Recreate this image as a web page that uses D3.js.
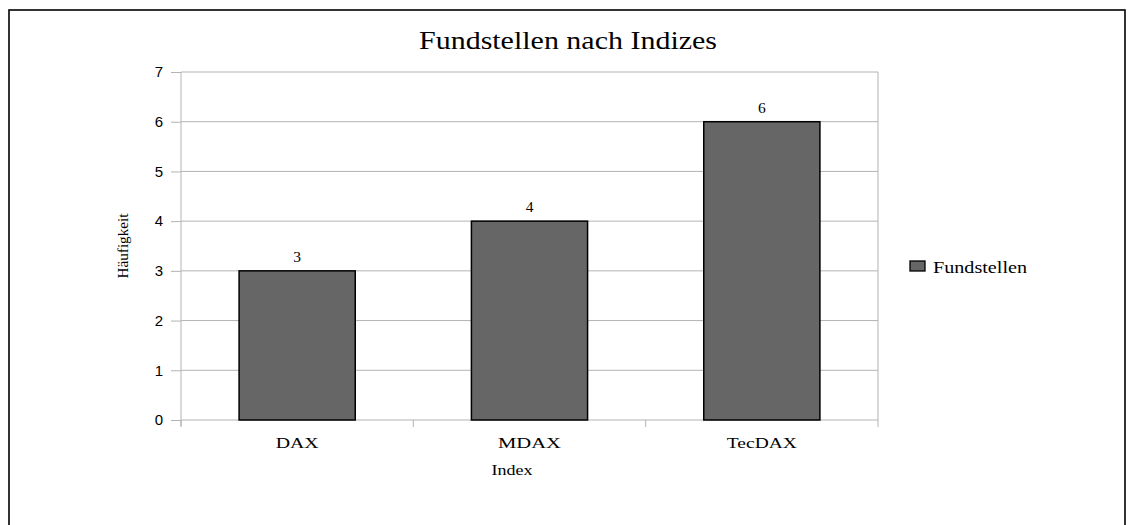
<!DOCTYPE html>
<html>
<head>
<meta charset="utf-8">
<script src="https://cdn.jsdelivr.net/npm/d3@7"></script>
<style>
  body { margin: 0; background: #fff; }
  .serif { font-family: "Liberation Serif", "DejaVu Serif", serif; }
  .sans { font-family: "Liberation Sans", Arial, sans-serif; }
</style>
</head>
<body>
<script>
const width = 1134
const height = 525

// Data
const categories = ['DAX', 'MDAX', 'TecDAX']
const values = [3, 4, 6]
const yTicks = [0, 1, 2, 3, 4, 5, 6, 7]
const seriesName = 'Fundstellen'

const plot = {left: 181, right: 878, top: 72, bottom: 420}

// the original renders its serif text a bit stretched, so fit widths
const catWidths = {DAX: 43, MDAX: 63, TecDAX: 70}

const svg = d3.select('body').append('svg')
  .attr('width', width)
  .attr('height', height)

// outer frame
svg.append('rect')
  .attr('x', 9).attr('y', 10)
  .attr('width', 1116).attr('height', 540)
  .attr('fill', 'none').attr('stroke', '#000').attr('stroke-width', 1.6)

const x = d3.scaleBand()
  .domain(categories)
  .range([plot.left, plot.right])
  .paddingInner(0.5).paddingOuter(0.25)

const xOuter = d3.scaleBand()
  .domain(categories)
  .range([plot.left, plot.right])

const y = d3.scaleLinear()
  .domain([0, 7])
  .range([plot.bottom, plot.top])

// gridlines
svg.append('g').selectAll('line')
  .data(yTicks.filter(d => d > 0))
  .enter().append('line')
  .attr('x1', plot.left).attr('x2', plot.right)
  .attr('y1', d => y(d)).attr('y2', d => y(d))
  .attr('stroke', '#b3b3b3').attr('stroke-width', 1)

// right edge of plot
svg.append('line')
  .attr('x1', plot.right).attr('x2', plot.right)
  .attr('y1', plot.top).attr('y2', plot.bottom)
  .attr('stroke', '#b3b3b3')

// y axis
const yAxis = svg.append('g')
  .attr('transform', `translate(${plot.left},0)`)
  .call(d3.axisLeft(y).tickValues(yTicks).tickSize(10).tickPadding(8).tickFormat(d3.format('d')))
yAxis.select('.domain').attr('stroke', '#b3b3b3').attr('d', `M0,${plot.top}V${plot.bottom + 6}`)
yAxis.selectAll('.tick line').attr('stroke', '#b3b3b3')
yAxis.selectAll('.tick text')
  .attr('class', 'sans')
  .attr('font-size', 15).attr('fill', '#000')

// x axis
const xAxis = svg.append('g')
  .attr('transform', `translate(0,${plot.bottom})`)
  .call(d3.axisBottom(xOuter).tickSize(0).tickPadding(17))
xAxis.select('.domain').attr('stroke', '#b3b3b3').attr('d', `M${plot.left},0H${plot.right}`)
xAxis.selectAll('.tick text')
  .attr('class', 'serif')
  .attr('font-size', 15.5).attr('fill', '#000')
  .attr('textLength', d => catWidths[d])
  .attr('lengthAdjust', 'spacingAndGlyphs')

// x tick marks at category boundaries
svg.append('g').selectAll('line')
  .data(categories.map(c => xOuter(c)).concat([plot.right]))
  .enter().append('line')
  .attr('x1', d => d).attr('x2', d => d)
  .attr('y1', plot.bottom).attr('y2', plot.bottom + 7)
  .attr('stroke', '#b3b3b3')

// bars
svg.append('g').selectAll('rect')
  .data(values)
  .enter().append('rect')
  .attr('x', (d, i) => x(categories[i]))
  .attr('width', x.bandwidth())
  .attr('y', d => y(d))
  .attr('height', d => y(0) - y(d))
  .attr('fill', '#666666')
  .attr('stroke', '#000').attr('stroke-width', 1.5)

// value labels
svg.append('g').selectAll('text')
  .data(values)
  .enter().append('text')
  .attr('class', 'serif')
  .attr('x', (d, i) => x(categories[i]) + x.bandwidth() / 2)
  .attr('y', d => y(d) - 9)
  .attr('text-anchor', 'middle')
  .attr('font-size', 15.5)
  .text(d => d)

// title
svg.append('text')
  .attr('class', 'serif')
  .attr('x', 568).attr('y', 49)
  .attr('text-anchor', 'middle')
  .attr('font-size', 26)
  .attr('textLength', 298)
  .attr('lengthAdjust', 'spacingAndGlyphs')
  .text('Fundstellen nach Indizes')

// axis titles
svg.append('text')
  .attr('class', 'serif')
  .attr('x', 512).attr('y', 475)
  .attr('text-anchor', 'middle')
  .attr('font-size', 15.5)
  .attr('textLength', 41)
  .attr('lengthAdjust', 'spacingAndGlyphs')
  .text('Index')

svg.append('text')
  .attr('class', 'serif')
  .attr('transform', 'translate(128,246) rotate(-90)')
  .attr('text-anchor', 'middle')
  .attr('font-size', 15)
  .attr('textLength', 65)
  .attr('lengthAdjust', 'spacingAndGlyphs')
  .text('Häufigkeit')

// legend
const legend = svg.append('g').attr('transform', 'translate(910,261)')
legend.append('rect')
  .attr('width', 15).attr('height', 10)
  .attr('fill', '#666666').attr('stroke', '#000').attr('stroke-width', 1.3)
legend.append('text')
  .attr('class', 'serif')
  .attr('x', 23).attr('y', 12)
  .attr('font-size', 16)
  .attr('textLength', 94)
  .attr('lengthAdjust', 'spacingAndGlyphs')
  .text(seriesName)
</script>
</body>
</html>
